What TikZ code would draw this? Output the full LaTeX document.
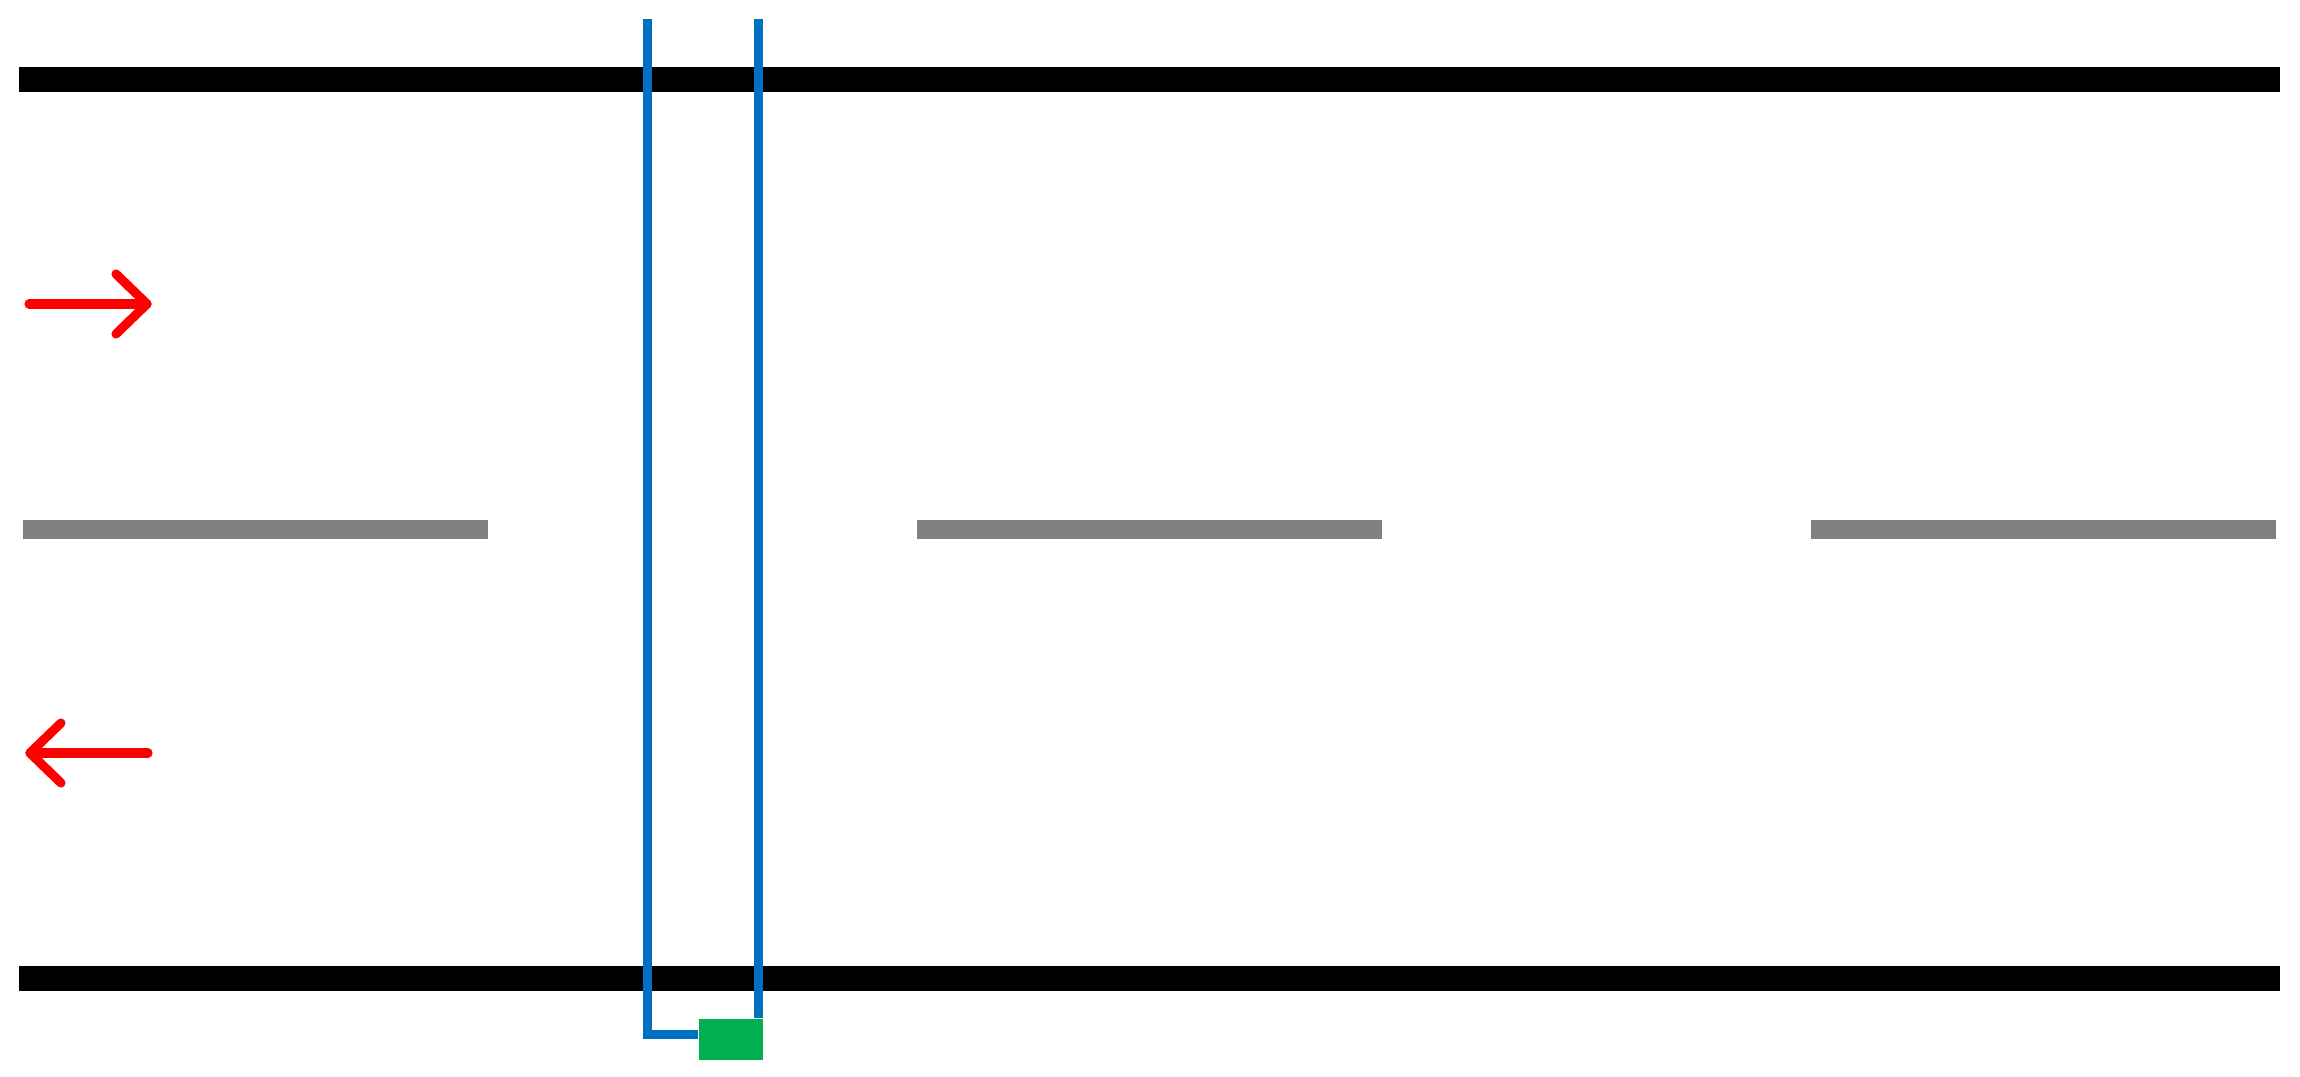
\documentclass[tikz,border=0pt]{standalone}
\usepackage{tikz}

\definecolor{loopblue}{RGB}{0,112,192}
\definecolor{detgreen}{RGB}{0,176,80}

\begin{document}
\begin{tikzpicture}[x=0.01cm, y=-0.01cm,
    edge/.style={line width=7.1pt, black},
    lane/.style={line width=5.4pt, gray},
    loop/.style={line width=2.56pt, loopblue},
    dir/.style={line width=2.6pt, red, line cap=round, line join=round}]
    \useasboundingbox (0, 0) rectangle (2300, 1077);

    % road edges
    \draw[edge] (19, 79.5) -- (2280, 79.5);
    \draw[edge] (19, 978.5) -- (2280, 978.5);

    % centre line
    \foreach \x in {23, 917, 1811}
        \draw[lane] (\x, 529.5) -- ++(465, 0);

    % travel directions
    \draw[dir] (29, 304) -- (147, 304);
    \draw[dir] (116, 274) -- (147, 304) -- (116, 334);
    \draw[dir] (148, 753) -- (30, 753);
    \draw[dir] (61, 723) -- (30, 753) -- (61, 783);

    % loop and detector
    \node[fill=detgreen, minimum width=0.64cm, minimum height=0.41cm, inner sep=0] (det) at (731, 1039.5) {};
    \coordinate (ltop) at (647.5, 19);
    \coordinate (rtop) at (758.5, 19);
    \coordinate (lbot) at (647.5, 1034.5);
    \draw[loop] (ltop) -- (lbot) -- (lbot -| det.west);
    \draw[loop] (rtop) -- (rtop |- det.north);
\end{tikzpicture}
\end{document}
